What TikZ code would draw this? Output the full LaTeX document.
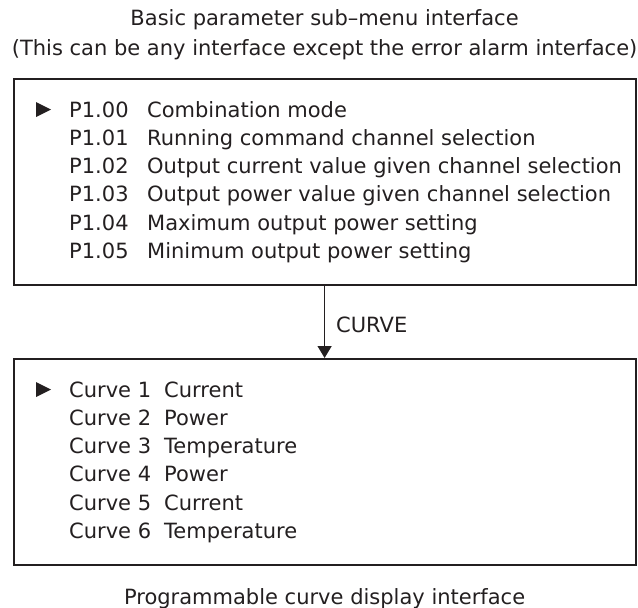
\documentclass[tikz,border=0pt]{standalone}
\usepackage{fontspec}
\setmainfont{DejaVu Sans}
\usetikzlibrary{arrows.meta}
\definecolor{ink}{HTML}{231F20}
\begin{document}
\begin{tikzpicture}[x=1pt,y=-1pt,
  panel/.style={draw=ink,line width=2pt,minimum width=622pt,minimum height=206pt,inner sep=0pt},
  txt/.style={anchor=base west,inner sep=0pt,text=ink,font=\fontsize{21}{25}\selectfont},
  ctr/.style={anchor=base,inner sep=0pt,text=ink,font=\fontsize{21}{25}\selectfont},
  conn/.style={draw=ink,line width=1.3pt,-{Triangle[length=12pt,width=14pt]}},
  pointer/.style={fill=ink}]
\useasboundingbox (0,0) rectangle (638,608);
\node[ctr] (t1) at (324.6,25) {Basic parameter sub–menu interface};
\node[ctr] (t2) at (324.6,55) {(This can be any interface except the error alarm interface)};
\node[panel] (top) at (324.6,182) {};
\node[panel] (bot) at (324.6,462) {};
\draw[conn] (top.south) -- (bot.north);
\node[txt] (curve) at (336,332) {CURVE};
% top menu
\fill[pointer] (36,102) -- (51,109.5) -- (36,117) -- cycle;
\foreach \i/\c/\d in {0/P1.00/Combination mode,1/P1.01/Running command channel selection,2/P1.02/Output current value given channel selection,3/P1.03/Output power value given channel selection,4/P1.04/Maximum output power setting,5/P1.05/Minimum output power setting}{
  \node[txt] (pc\i) at (69,117+28.3*\i) {\c};
  \node[txt] (pd\i) at (147,117+28.3*\i) {\d};
}
% bottom menu
\fill[pointer] (36,382) -- (51,389.5) -- (36,397) -- cycle;
\foreach \i/\c/\d in {0/Curve 1/Current,1/Curve 2/Power,2/Curve 3/Temperature,3/Curve 4/Power,4/Curve 5/Current,5/Curve 6/Temperature}{
  \node[txt] (cc\i) at (69,397+28.3*\i) {\c};
  \node[txt] (cd\i) at (164,397+28.3*\i) {\d};
}
\node[ctr] (cap) at (324.6,604) {Programmable curve display interface};
\end{tikzpicture}
\end{document}
